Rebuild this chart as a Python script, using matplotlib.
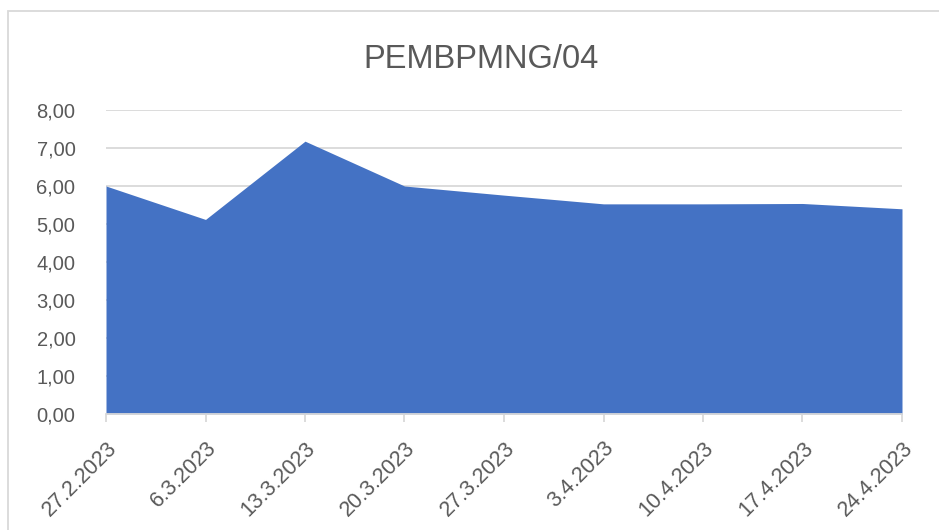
import matplotlib
matplotlib.use('Agg')
import matplotlib.pyplot as plt
from matplotlib.patches import Rectangle
from matplotlib.ticker import FuncFormatter
import numpy as np

dates = ["27.2.2023", "6.3.2023", "13.3.2023", "20.3.2023", "27.3.2023",
         "3.4.2023", "10.4.2023", "17.4.2023", "24.4.2023"]
values = [6.00, 5.12, 7.18, 6.00, 5.76, 5.53, 5.53, 5.54, 5.40]
y_ticks = [0, 1, 2, 3, 4, 5, 6, 7, 8]

plt.rcParams['font.family'] = ['Liberation Sans', 'DejaVu Sans']
text_col = '#595959'
grid_col = '#d9d9d9'

fig = plt.figure(figsize=(9.39, 5.30), dpi=100)
ax = fig.add_axes([106 / 939, 1 - 414 / 530, 796 / 939, 304 / 530])

x = np.arange(len(dates))
ax.fill_between(x, 0, values, color='#4472c4', linewidth=0, zorder=2)

ax.set_xlim(0, len(dates) - 1)
ax.set_ylim(0, 8)
ax.set_yticks(y_ticks)
ax.yaxis.set_major_formatter(FuncFormatter(lambda v, p: f"{v:.2f}".replace('.', ',')))
ax.set_xticks(x)
ax.set_xticklabels(dates, rotation=45, ha='right', rotation_mode='anchor')

ax.grid(axis='y', color=grid_col, linewidth=1.3, zorder=0)
ax.set_axisbelow(True)
for s in ['top', 'right', 'left']:
    ax.spines[s].set_visible(False)
ax.spines['bottom'].set_color(grid_col)
ax.spines['bottom'].set_linewidth(1.3)
ax.spines['bottom'].set_zorder(3)

ax.tick_params(axis='y', length=0, pad=22, labelsize=14.5, labelcolor=text_col)
ax.tick_params(axis='x', length=6, width=1.3, color=grid_col, pad=11,
               labelsize=15.5, labelcolor=text_col)

fig.text(481 / 939, 1 - 68 / 530, "PEMBPMNG/04", ha='center', va='baseline',
         fontsize=23.5, color=text_col)

# chart area border (cropped at right and bottom)
fig.patches.append(Rectangle((8 / 939, -0.1), 1.2, 1 - 11 / 530 + 0.1,
                             transform=fig.transFigure, fill=False,
                             edgecolor='#d9d9d9', linewidth=1.3))

fig.savefig('out.png', dpi=100)
